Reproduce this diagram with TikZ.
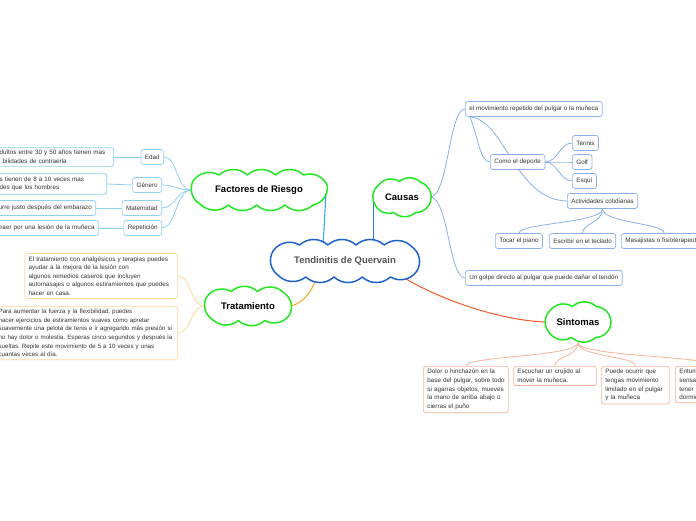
\documentclass[tikz,border=0pt]{standalone}
\usepackage{fontspec}
\setmainfont{Liberation Sans}
\usetikzlibrary{calc}
\pgfdeclarelayer{bg}
\pgfdeclarelayer{mid}
\pgfsetlayers{bg,mid,main}
\hbadness=10000 \hfuzz=100pt
\frenchspacing
\definecolor{cgreen}{HTML}{22E822}
\definecolor{cdark}{HTML}{1F62C8}
\definecolor{ccal}{HTML}{2F78DC}
\definecolor{cfr}{HTML}{38A8E8}
\definecolor{cfrl}{HTML}{8DD0F2}
\definecolor{cca}{HTML}{8AB0EC}
\definecolor{ctr}{HTML}{F5A623}
\definecolor{ctrl}{HTML}{FCDA9C}
\definecolor{csi}{HTML}{F05A28}
\definecolor{csil}{HTML}{F6B29A}
\definecolor{ctext}{HTML}{333333}
\definecolor{ctq}{HTML}{555555}
\tikzset{
  cl/.style={inner sep=0pt, font=\bfseries\fontsize{9.5}{11}\selectfont},
  leaf/.style={rounded corners=2.5pt, line width=0.7pt, fill=white,
    font=\fontsize{6.3}{8.6}\selectfont, text=ctext, inner xsep=4pt, inner ysep=3pt, minimum height=15pt},
  fleaf/.style={leaf, draw=cfrl},
  cleaf/.style={leaf, draw=cca, anchor=west},
  tleaf/.style={leaf, draw=ctrl, anchor=east, align=left},
  sleaf/.style={leaf, draw=csil, anchor=north west, align=left},
  frc/.style={draw=cfrl, line width=0.8pt},
  cac/.style={draw=cca, line width=0.8pt},
  trc/.style={draw=ctrl, line width=0.8pt},
  sic/.style={draw=csil, line width=0.8pt}
}
% cloud outline around node #1: inner half width #2, inner half height #3, #4 puffs, colour #5
\newcommand\drawcloud[5]{%
 \pgfmathsetmacro\cA{#2}\pgfmathsetmacro\cB{#3}%
 \pgfmathsetmacro\cH{\cA-\cB}%
 \pgfmathsetmacro\cP{4*\cH+2*pi*\cB}%
 \pgfmathsetmacro\cD{\cP/#4}%
 \foreach \k in {0,...,#4}{%
   \pgfmathsetmacro\sr{\k*\cD+0.5*\cD}%
   \pgfmathsetmacro\ss{(\sr>\cP-0.01) ? (\sr-\cP) : (\sr)}%
   \pgfmathsetmacro\xx{(\ss<2*\cH) ? (-\cH+\ss) : ((\ss<2*\cH+pi*\cB) ? (\cH+\cB*sin(deg((\ss-2*\cH)/\cB))) : ((\ss<4*\cH+pi*\cB) ? (\cH-(\ss-2*\cH-pi*\cB)) : (-\cH-\cB*sin(deg((\ss-4*\cH-pi*\cB)/\cB)))))}%
   \pgfmathsetmacro\yy{(\ss<2*\cH) ? (-\cB) : ((\ss<2*\cH+pi*\cB) ? (-\cB*cos(deg((\ss-2*\cH)/\cB))) : ((\ss<4*\cH+pi*\cB) ? (\cB) : (\cB*cos(deg((\ss-4*\cH-pi*\cB)/\cB)))))}%
   \coordinate (#1-p\k) at ($(#1.center)+(\xx,\yy)$);
 }%
 \begin{pgfonlayer}{mid}
 \filldraw[draw=#5, fill=white, line width=1.5pt, line join=round] (#1-p0) \foreach \k in {1,...,#4}{ to[bend left=42] (#1-p\k)} -- cycle;
 \end{pgfonlayer}
}
\begin{document}
\begin{tikzpicture}[x=1pt,y=-1pt]
\useasboundingbox (0,0) rectangle (696,520);
\clip (0,0) rectangle (696,520);
% main topics
\node[cl, text=ctq, minimum width=150, minimum height=42] (tq) at (345,261) {Tendinitis de Quervain};
\node[cl, minimum width=138, minimum height=40] (fr) at (259,190) {Factores de Riesgo};
\node[cl, minimum width=60, minimum height=41] (ca) at (402,197) {Causas};
\node[cl, minimum width=89, minimum height=39] (tr) at (248,306) {Tratamiento};
\node[cl, minimum width=69, minimum height=41] (si) at (578,322) {Sintomas};
\drawcloud{tq}{75.5}{16}{12}{cdark}
\drawcloud{fr}{69}{15}{11}{cgreen}
\drawcloud{ca}{29}{15.5}{7}{cgreen}
\drawcloud{tr}{44.5}{14.5}{8}{cgreen}
\drawcloud{si}{33}{15.5}{7}{cgreen}
% factores
\node[fleaf, anchor=east] (edad) at (164,157) {Edad};
\node[fleaf, anchor=east] (gen) at (162,185) {Género};
\node[fleaf, anchor=east] (mat) at (162,208) {Maternidad};
\node[fleaf, anchor=east] (rep) at (162,228) {Repetición};
\node[fleaf, anchor=east, text width=110, align=left] (l1) at (114,157) {\mbox{dultos entre 30 y 50 años tienen mas}\\\mbox{\hspace*{3pt}bilidades de contraerla}};
\node[fleaf, anchor=east, text width=103, align=left] (l2) at (107,184) {\mbox{s tienen de 8 a 10 veces mas}\\\mbox{des que los hombres}};
\node[fleaf, anchor=east, text width=93, align=left] (l3) at (96,208) {\mbox{urre justo después del embarazo}};
\node[fleaf, anchor=east, text width=96, align=left] (l4) at (99,228) {\mbox{traer  por una lesión de la muñeca}};
% tratamiento
\node[tleaf, text width=145] (t1) at (178,276) {\mbox{El tratamiento con analgésicos y terapias puedes}\\\mbox{ayudar a la mejora de la lesión con}\\\mbox{algunos remedios caseros que incluyen}\\\mbox{automasajes o algunos estiramientos que puedes}\\\mbox{hacer en casa.}};
\node[tleaf, text width=175, font=\fontsize{6.15}{8.6}\selectfont] (t2) at (178,333) {\mbox{Para aumentar la fuerza y la flexibilidad, puedes}\\\mbox{hacer ejercicios de estiramientos suaves como apretar}\\\mbox{suavemente una pelota de tenis e ir agregando más presión si}\\\mbox{no hay dolor o molestia. Esperas cinco segundos y después la}\\\mbox{sueltas. Repite este movimiento de 5 a 10 veces y unas}\\\mbox{cuantas veces al día.}};
% causas
\node[cleaf] (mov) at (465,109) {el movimiento repetido del pulgar o la muñeca};
\node[cleaf] (dep) at (490,162) {Como el deporte};
\node[cleaf] (ten) at (572,143) {Tennis};
\node[cleaf] (golf) at (572,162) {Golf};
\node[cleaf] (esq) at (572,181) {Esquí};
\node[cleaf] (act) at (567,201) {Actividades cotidianas};
\node[cleaf] (toc) at (495,241) {Tocar el piano};
\node[cleaf] (esc) at (549,241) {Escribir en el teclado};
\node[cleaf] (mas) at (621,241) {Masajistas o fisioterapeutas};
\node[cleaf] (gol) at (465,278) {Un golpe directo al pulgar que puede dañar el tendón};
% sintomas
\node[sleaf, text width=77] (s1) at (423,366) {\mbox{Dolor o hinchazón en la}\\\mbox{base del pulgar, sobre todo}\\\mbox{si agarras objetos, mueves}\\\mbox{la mano de arriba abajo o}\\\mbox{cierras el puño}};
\node[sleaf, text width=75] (s2) at (513,366) {\mbox{Escuchar un crujido al}\\\mbox{mover la muñeca.}};
\node[sleaf, text width=60] (s3) at (601,366) {\mbox{Puede ocurrir que}\\\mbox{tengas movimiento}\\\mbox{limitado en el pulgar}\\\mbox{y la muñeca}};
\node[sleaf, text width=70] (s4) at (675,366) {\mbox{Entumecimiento}\\\mbox{sensación de}\\\mbox{tener la mano}\\\mbox{dormida}};
% connectors
\begin{pgfonlayer}{bg}
\draw[cfr, line width=1.1pt] ([xshift=-2pt]fr.east) -- ([xshift=-6pt]fr.east |- tq.center);
\draw[ccal, line width=1.1pt] ([xshift=2pt]ca.west) -- ([xshift=2pt]ca.west |- tq.center);
\draw[ctr, line width=1pt] ([xshift=-2pt]tr.east) .. controls +(14,-3) and +(-3,13) .. ($(tq.center)+(-28,14)$);
\draw[csi, line width=1pt] ($(tq.center)+(52,12)$) .. controls +(28,20) and +(-53,-2) .. ([xshift=2pt]si.west);
\foreach \n in {edad,gen,mat,rep}
  \draw[frc] ([xshift=2pt]fr.west) .. controls +(-16,0) and +(14,0) .. (\n.east);
\draw[frc] (edad.west) -- (l1.east);
\draw[frc] (gen.west) -- (l2.east);
\draw[frc] (mat.west) -- (l3.east);
\draw[frc] (rep.west) -- (l4.east);
\foreach \n in {t1,t2}
  \draw[trc] ([xshift=2pt]tr.west) .. controls +(-16,0) and +(14,0) .. (\n.east);
\draw[cac] ([xshift=-2pt]ca.east) .. controls +(18,0) and +(-16,0) .. (mov.west);
\draw[cac] ([xshift=-2pt]ca.east) .. controls +(18,0) and +(-16,0) .. (gol.west);
\draw[cac] ([xshift=5pt]mov.south west) .. controls +(8,20) and +(-10,0) .. (dep.west);
\draw[cac] ([xshift=5pt]mov.south west) .. controls +(35,3) and +(-52,-1) .. (act.west);
\foreach \n in {ten,golf,esq}
  \draw[cac] (dep.east) .. controls +(12,0) and +(-12,0) .. (\n.west);
\foreach \n in {toc,esc,mas}
  \draw[cac] (act.south) .. controls +(0,14) and +(0,-10) .. (\n.north);
\foreach \n in {s1,s2,s3,s4}
  \draw[sic] (si.south) .. controls +(0,14) and +(0,-10) .. (\n.north);
\end{pgfonlayer}
\end{tikzpicture}
\end{document}
